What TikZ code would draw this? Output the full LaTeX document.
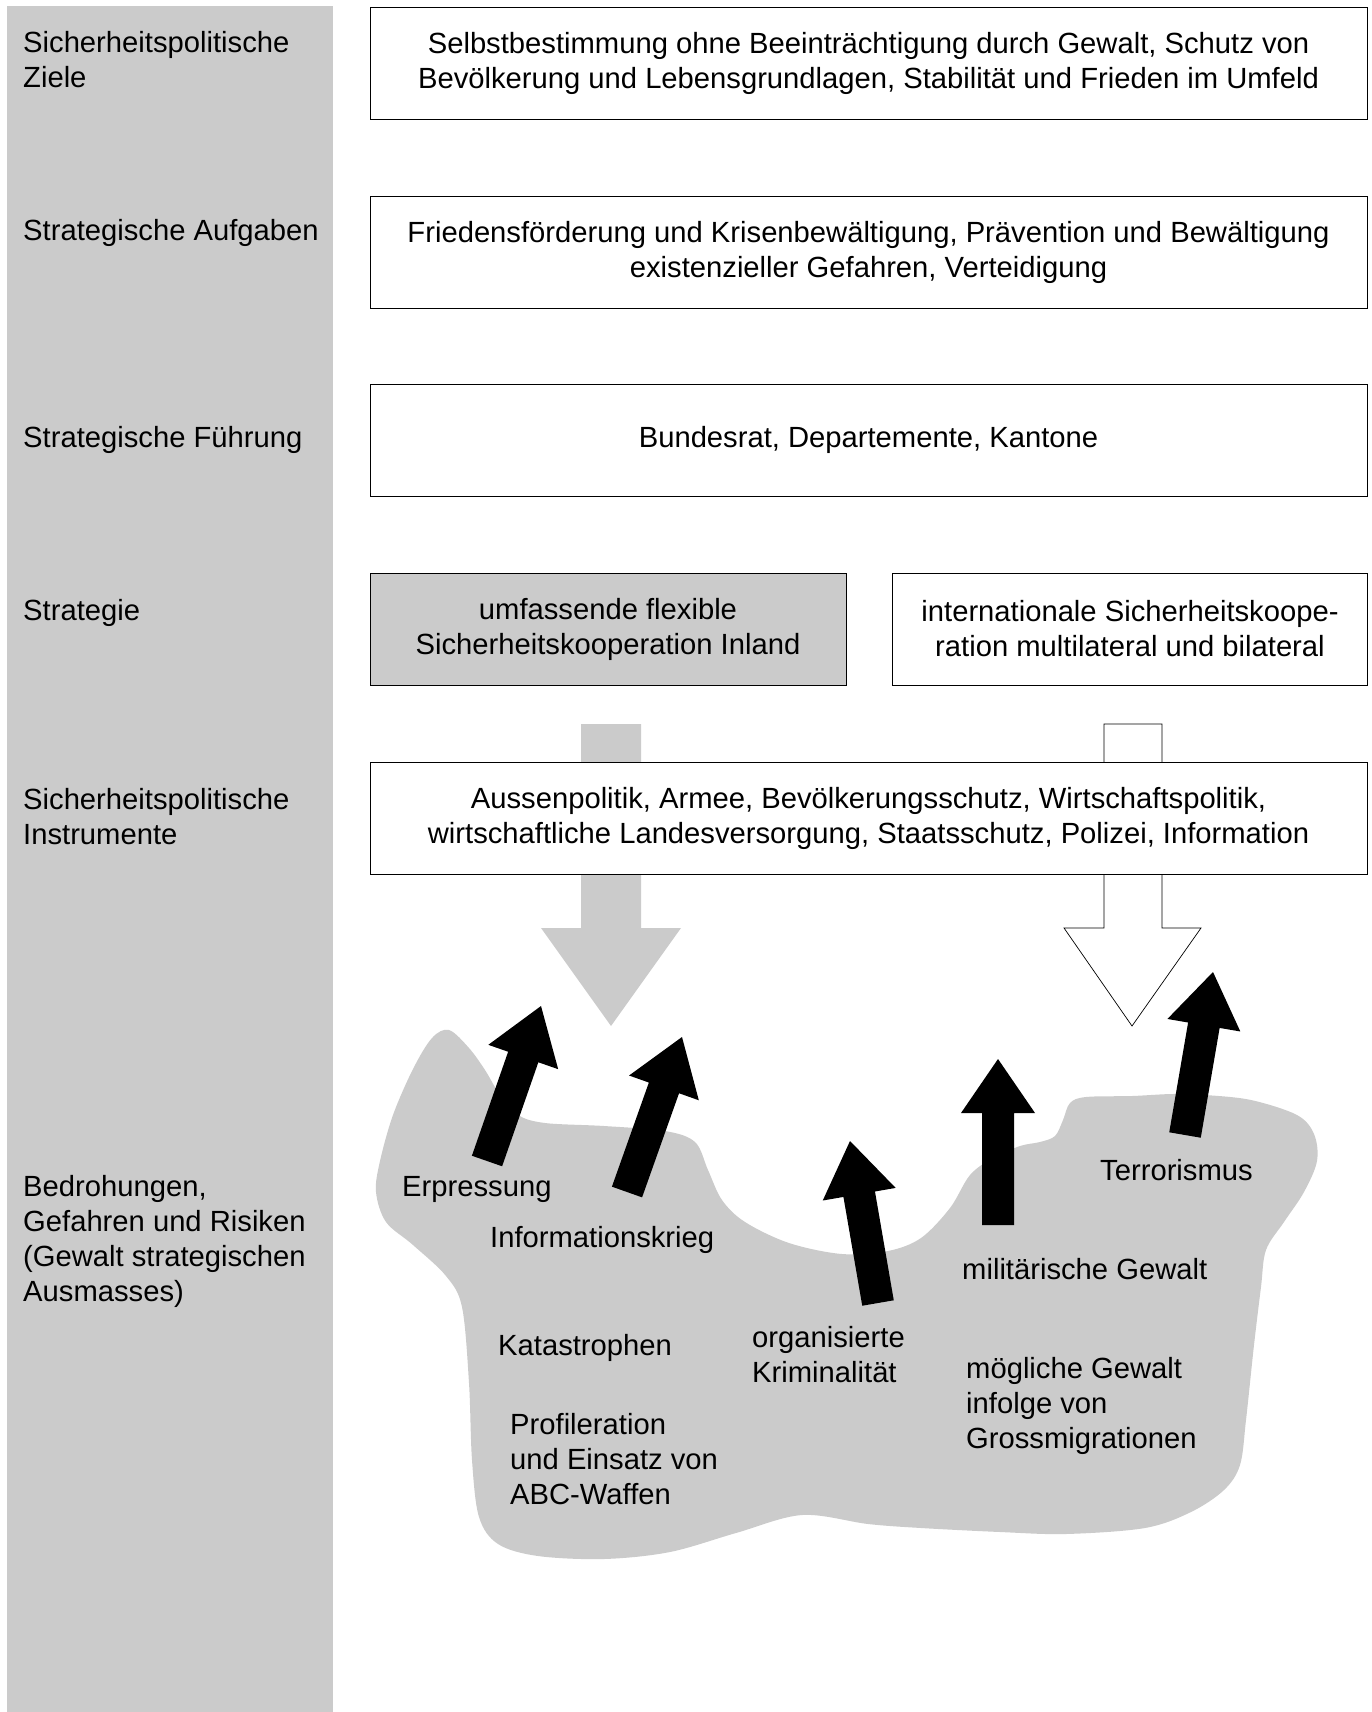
\documentclass[tikz,border=0pt]{standalone}
\usepackage{fontspec}
\setmainfont{Liberation Sans}
\usetikzlibrary{calc}
\definecolor{lg}{RGB}{203,203,203}
\newcommand{\fatarrow}[2]{%
  \coordinate (fa-c) at ($(#2)!54pt!(#1)$);
  \fill[black] ($(#1)!16pt!90:(#2)$) -- ($(fa-c)!16pt!-90:(#1)$) -- ($(fa-c)!37pt!-90:(#1)$) -- (#2)
    -- ($(fa-c)!37pt!90:(#1)$) -- ($(fa-c)!16pt!90:(#1)$) -- ($(#1)!16pt!-90:(#2)$) -- cycle;}
\begin{document}
\begin{tikzpicture}[x=1pt,y=-1pt,
  txt/.style={font=\fontsize{29.2}{35}\selectfont, inner sep=0pt},
  box/.style={txt, draw=black, line width=0.9pt, fill=white, minimum width=997pt, minimum height=112pt, align=center},
  lab/.style={txt, align=left, anchor=base west}]
\path[use as bounding box] (0,0) rectangle (1372,1712);
% sidebar
\fill[lg] (7,6) rectangle (333,1712);
% boxes
\node[box] (ziele) at (868.5,63) {Selbstbestimmung ohne Beeinträchtigung durch Gewalt, Schutz von\\Bevölkerung und Lebensgrundlagen, Stabilität und Frieden im Umfeld};
\node[box] (aufgaben) at (868.5,252) {Friedensförderung und Krisenbewältigung, Prävention und Bewältigung\\existenzieller Gefahren, Verteidigung};
\node[box] (fuehrung) at (868.5,440) {Bundesrat, Departemente, Kantone};
\node[box, fill=lg, minimum width=476pt] (inland) at (608,629) {umfassende flexible\\Sicherheitskooperation Inland};
\node[box, minimum width=475pt] (intl) at (1130,629) {internationale Sicherheitskoope-\\ration multilateral und bilateral};
% big arrows
\fill[lg] (581,724) -- (641,724) -- (641,928) -- (681,928) -- (611,1026) -- (541,928) -- (581,928) -- cycle;
\draw[fill=white, line width=0.7pt] (1104,724) -- (1162,724) -- (1162,928) -- (1201,928) -- (1132,1026) -- (1064,928) -- (1104,928) -- cycle;
\node[box] (instr) at (868.5,818.5) {Aussenpolitik, Armee, Bevölkerungsschutz, Wirtschaftspolitik,\\wirtschaftliche Landesversorgung, Staatsschutz, Polizei, Information};
% blob
\fill[lg] plot[smooth cycle, tension=0.55] coordinates {
(449,1030) (469,1048) (485,1070) (500,1095) (518,1115) (545,1123) (604,1126) (665,1131)
(695,1142) (708,1170) (722,1200) (745,1222) (789,1243) (842,1254) (888,1251) (921,1238)
(950,1208) (970,1175) (993,1158) (1020,1146) (1040,1142) (1055,1136) (1063,1120) (1070,1103)
(1086,1097) (1132,1096) (1172,1094) (1205,1095) (1251,1100) (1297,1115) (1314,1134) (1317,1161)
(1304,1192) (1284,1222) (1266,1250) (1261,1287) (1254,1345) (1246,1420) (1240,1465) (1224,1490)
(1191,1512) (1145,1528) (1066,1534) (1000,1532) (921,1528) (868,1524) (802,1515) (736,1533)
(670,1552) (604,1559) (538,1556) (498,1544) (479,1517) (472,1460) (469,1383) (462,1307)
(446,1276) (413,1245) (386,1222) (376,1192) (380,1161) (393,1115) (413,1069) (432,1038)};
% black arrows
\coordinate (a1t) at (487,1161); \coordinate (a1h) at (541,1006);
\coordinate (a2t) at (627,1192); \coordinate (a2h) at (682,1037);
\coordinate (a3t) at (878,1303); \coordinate (a3h) at (850,1141);
\coordinate (a4t) at (998,1225); \coordinate (a4h) at (998,1059);
\coordinate (a5t) at (1185,1135); \coordinate (a5h) at (1213,972);
\fatarrow{a1t}{a1h}
\fatarrow{a2t}{a2h}
\fatarrow{a3t}{a3h}
\fatarrow{a4t}{a4h}
\fatarrow{a5t}{a5h}
% sidebar labels (base = baseline of last line)
\node[lab] (l1) at (23,88) {Sicherheitspolitische\\Ziele};
\node[lab] (l2) at (23,241) {Strategische Aufgaben};
\node[lab] (l3) at (23,447) {Strategische Führung};
\node[lab] (l4) at (23,620) {Strategie};
\node[lab] (l5) at (23,844) {Sicherheitspolitische\\Instrumente};
\node[lab] (l6) at (23,1301) {Bedrohungen,\\Gefahren und Risiken\\(Gewalt strategischen\\Ausmasses)};
% blob labels
\node[lab] (t1) at (402,1196) {Erpressung};
\node[lab] (t2) at (490,1247) {Informationskrieg};
\node[lab] (t3) at (498,1355) {Katastrophen};
\node[lab] (t4) at (510,1504) {Profileration\\und Einsatz von\\ABC-Waffen};
\node[lab] (t5) at (752,1382) {organisierte\\Kriminalität};
\node[lab] (t6) at (962,1279) {militärische Gewalt};
\node[lab] (t7) at (966,1448) {mögliche Gewalt\\infolge von\\Grossmigrationen};
\node[lab] (t8) at (1100,1180) {Terrorismus};
\end{tikzpicture}
\end{document}
